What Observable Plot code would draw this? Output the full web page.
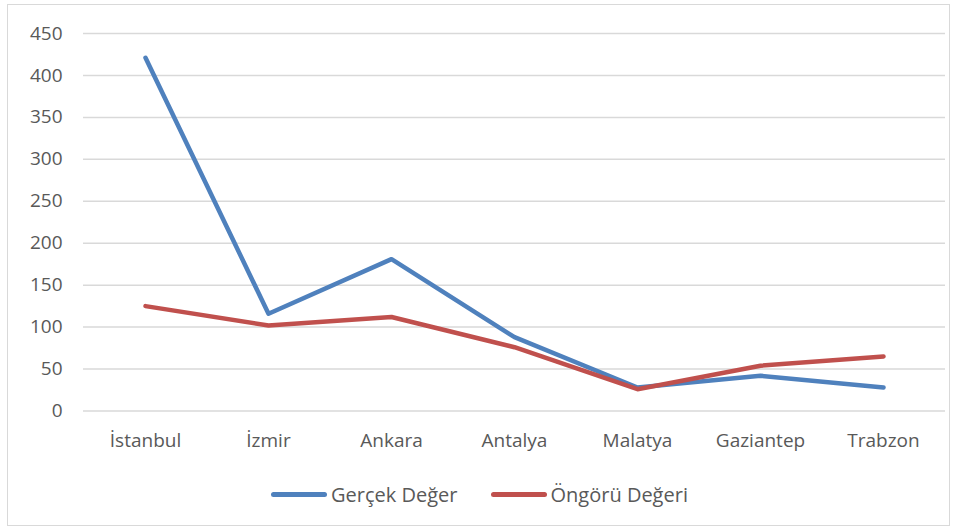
<!DOCTYPE html>
<html>
<head>
<meta charset="utf-8">
<script src="https://cdn.jsdelivr.net/npm/d3@7"></script>
<script src="https://cdn.jsdelivr.net/npm/@observablehq/plot@0.6"></script>
<style>
  html, body { margin: 0; padding: 0; background: #fff; }
  #wrap { position: relative; width: 959px; height: 530px; overflow: hidden; font-family: "Open Sans", sans-serif; }
  #frame { position: absolute; left: 7px; top: 4px; width: 943px; height: 522px; border: 1.5px solid #d9d9d9; box-sizing: border-box; }
  #chart { position: absolute; left: 0; top: 0; }
  #legend { position: absolute; left: 0; top: 481px; width: 959px; display: flex; justify-content: center; gap: 33px; font-size: 20px; color: #595959; }
  .item { display: flex; align-items: center; }
  .sw { width: 56px; height: 5px; border-radius: 3px; margin-right: 4px; }
</style>
</head>
<body>
<div id="wrap">
  <div id="frame"></div>
  <div id="chart"></div>
  <div id="legend"></div>
</div>
<script>
const categories = ["İstanbul", "İzmir", "Ankara", "Antalya", "Malatya", "Gaziantep", "Trabzon"];
const seriesNames = ["Gerçek Değer", "Öngörü Değeri"];
const actualValues = [421, 116, 181, 88, 28, 42, 28];
const forecastValues = [125, 102, 112, 76, 26, 54, 65];
const yTicks = [0, 50, 100, 150, 200, 250, 300, 350, 400, 450];
const colors = ["#4F81BD", "#C0504D"];

const rows = [];
categories.forEach((c, i) => {
  rows.push({city: c, value: actualValues[i], series: seriesNames[0]});
  rows.push({city: c, value: forecastValues[i], series: seriesNames[1]});
});

const plot = Plot.plot({
  width: 959,
  height: 470,
  marginLeft: 83,
  marginRight: 14,
  marginTop: 33,
  marginBottom: 59.5,
  style: {fontFamily: "Open Sans, sans-serif", fontSize: "19px", color: "#595959", background: "transparent"},
  x: {type: "point", domain: categories, padding: 0.5, label: null},
  y: {domain: [0, 450], ticks: yTicks, label: null},
  color: {domain: seriesNames, range: colors},
  marks: [
    Plot.gridY(yTicks, {stroke: "#d9d9d9", strokeOpacity: 1, strokeWidth: 1.5}),
    Plot.axisY(yTicks, {tickSize: 0, tickPadding: 21, fontSize: 19, fill: "#595959", label: null}),
    Plot.axisX({tickSize: 0, tickPadding: 22, fontSize: 19, fill: "#595959", label: null}),
    Plot.line(rows, {x: "city", y: "value", z: "series", stroke: "series", strokeWidth: 4.5, strokeLinecap: "round", strokeLinejoin: "round"})
  ]
});
document.getElementById("chart").appendChild(plot);

const legend = document.getElementById("legend");
seriesNames.forEach((n, i) => {
  const it = document.createElement("div");
  it.className = "item";
  const sw = document.createElement("div");
  sw.className = "sw";
  sw.style.background = colors[i];
  const t = document.createElement("span");
  t.textContent = n;
  it.appendChild(sw); it.appendChild(t);
  legend.appendChild(it);
});
</script>
</body>
</html>
